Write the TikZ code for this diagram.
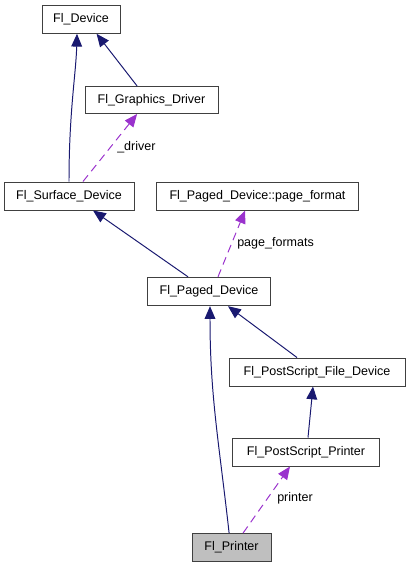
\documentclass[tikz,border=0pt]{standalone}
\usepackage{fontspec}
\setmainfont{Liberation Sans}
\usetikzlibrary{arrows.meta}
\definecolor{inhnavy}{HTML}{191970}
\definecolor{usepurple}{HTML}{9A32CD}
\tikzset{
  classbox/.style={draw=black!75, line width=0.7pt, fill=white, inner sep=0pt,
    font=\fontsize{8.9}{10}\selectfont},
  current/.style={fill=black!25},
  inherit/.style={draw=inhnavy, line width=0.7pt,
    -{Triangle[length=3.2mm, width=2.7mm]}},
  usage/.style={draw=usepurple, line width=0.7pt, dash pattern=on 2mm off 1.3mm,
    -{Triangle[length=3.2mm, width=2.7mm]}},
  edgelabel/.style={font=\fontsize{8.9}{10}\selectfont, anchor=west, inner sep=0pt},
}

\begin{document}
\begin{tikzpicture}[x=0.25mm, y=-0.25mm]
\useasboundingbox (0,0) rectangle (409,568);
\node[classbox, minimum width=19.5mm, minimum height=6.9mm] (dev) at (81,19.5) {Fl\_Device};
\node[classbox, minimum width=33.25mm, minimum height=6.75mm] (gdrv) at (151.5,100) {Fl\_Graphics\_Driver};
\node[classbox, minimum width=32.5mm, minimum height=7mm] (surf) at (69,196) {Fl\_Surface\_Device};
\node[classbox, minimum width=50.5mm, minimum height=7mm] (pfmt) at (257.5,196) {Fl\_Paged\_Device::page\_format};
\node[classbox, minimum width=30.75mm, minimum height=7.1mm] (paged) at (209,291.5) {Fl\_Paged\_Device};
\node[classbox, minimum width=44mm, minimum height=7mm] (psfile) at (317,372) {Fl\_PostScript\_File\_Device};
\node[classbox, minimum width=36.75mm, minimum height=7mm] (psprn) at (306,452) {Fl\_PostScript\_Printer};
\node[classbox, current, minimum width=19.75mm, minimum height=7mm] (prn) at (231.5,547.5) {Fl\_Printer};
\draw[inherit] (surf.north) .. controls +(0,-70) and +(-1,40) .. ([xshift=-1mm]dev.south);
\draw[inherit] ([xshift=-3.6mm]gdrv.north) -- ([xshift=3.9mm]dev.south);
\draw[usage] ([xshift=3.5mm]surf.north) -- ([xshift=-3.6mm]gdrv.south);
\node[edgelabel] (lbldrv) at (117,147) {\_driver};
\draw[inherit] ([xshift=-5.25mm]paged.north) -- ([xshift=6mm]surf.south);
\draw[usage] ([xshift=2.25mm]paged.north) -- ([xshift=-3.1mm]pfmt.south);
\node[edgelabel] (lblpf) at (237,243) {page\_formats};
\draw[inherit] ([xshift=-5mm]psfile.north) -- ([xshift=4.75mm]paged.south);
\draw[inherit] ([xshift=0.5mm]psprn.north) -- ([xshift=-1mm]psfile.south);
\draw[inherit] ([xshift=-0.6mm]prn.north) .. controls +(-10,-90) and +(0,90) .. ([xshift=0.25mm]paged.south);
\draw[usage] ([xshift=2.9mm]prn.north) -- ([xshift=-4mm]psprn.south);
\node[edgelabel] (lblprn) at (277,498) {printer};
\end{tikzpicture}
\end{document}
